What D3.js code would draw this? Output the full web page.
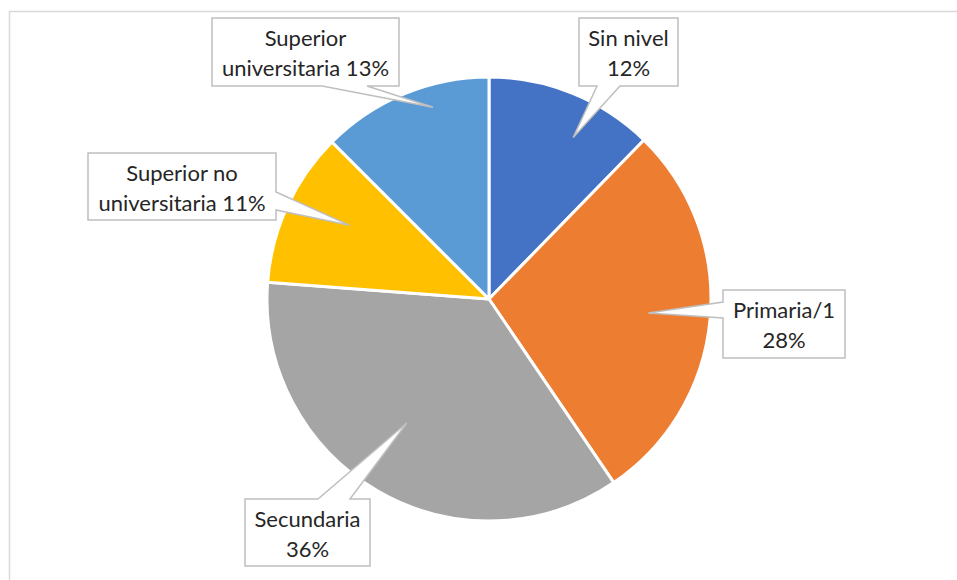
<!DOCTYPE html>
<html><head><meta charset="utf-8">
<script src="https://cdn.jsdelivr.net/npm/d3@7"></script>
<style>html,body{margin:0;padding:0;background:#fff;} svg{display:block;}</style>
</head><body>
<svg id="chart" width="957" height="580"></svg>
<script>
// ---- data ----
const categories = ["Sin nivel", "Primaria/1", "Secundaria", "Superior no universitaria", "Superior universitaria"];
const values = [12.3, 28.2, 35.7, 11.3, 12.5];
const colors = ["#4472C4", "#ED7D31", "#A5A5A5", "#FFC000", "#5B9BD5"];
// label line breaks (text per callout line; percent appended to last line)
const labelLines = [["Sin nivel", ""], ["Primaria/1", ""], ["Secundaria", ""], ["Superior no", "universitaria "], ["Superior", "universitaria "]];

// ---- layout ----
const W = 957, H = 580, cx = 489, cy = 299, R = 222;
// callout boxes: x0,y0,x1,y1, side, base a,b, tip angle offset (deg), tip radius fraction
const callouts = [
  {x0:579, y0:18, x1:678, y1:86, side:"bottom", a:597, b:620, dA:5.4, rF:0.82},
  {x0:723, y0:290, x1:845, y1:358, side:"left", a:302, b:318, dA:0, rF:0.72},
  {x0:245, y0:499, x1:370, y1:566, side:"top", a:318, b:350, dA:3.5, rF:0.67},
  {x0:88, y0:153, x1:276, y1:220, side:"right", a:192, b:210, dA:3.2, rF:0.71},
  {x0:212, y0:18, x1:399, y1:86, side:"bottom", a:322, b:367, dA:6.2, rF:0.9}
];

const svg = d3.select("#chart");
svg.append("rect").attr("x", 9.5).attr("y", 11.5).attr("width", 1200).attr("height", 1200)
  .attr("fill", "none").attr("stroke", "#d9d9d9").attr("stroke-width", 1.5);

const data = categories.map((c, i) => ({cat: c, value: values[i], color: colors[i], i}));
const pie = d3.pie().value(d => d.value).sort(null);
const arcs = pie(data);
const arc = d3.arc().innerRadius(0).outerRadius(R);

const g = svg.append("g").attr("transform", `translate(${cx},${cy})`);
g.selectAll("path.slice").data(arcs).join("path")
  .attr("class", "slice")
  .attr("d", arc)
  .attr("fill", d => d.data.color)
  .attr("stroke", "#fff").attr("stroke-width", 3).attr("stroke-linejoin", "round");

function polar(angDeg, r) {
  const a = angDeg * Math.PI / 180;
  return [cx + r * Math.sin(a), cy - r * Math.cos(a)];
}

const total = d3.sum(values);
arcs.forEach((d, i) => {
  const c = callouts[i];
  const mid = (d.startAngle + d.endAngle) / 2 * 180 / Math.PI;
  const [tx, ty] = polar(mid + c.dA, c.rF * R);
  let p;
  if (c.side === "bottom") {
    p = `M${c.x0},${c.y0}H${c.x1}V${c.y1}H${c.b}L${tx},${ty}L${c.a},${c.y1}H${c.x0}Z`;
  } else if (c.side === "top") {
    p = `M${c.x0},${c.y0}H${c.a}L${tx},${ty}L${c.b},${c.y0}H${c.x1}V${c.y1}H${c.x0}Z`;
  } else if (c.side === "left") {
    p = `M${c.x0},${c.y0}H${c.x1}V${c.y1}H${c.x0}V${c.b}L${tx},${ty}L${c.x0},${c.a}Z`;
  } else {
    p = `M${c.x0},${c.y0}H${c.x1}V${c.a}L${tx},${ty}L${c.x1},${c.b}V${c.y1}H${c.x0}Z`;
  }
  svg.append("path").attr("d", p).attr("fill", "#fff")
    .attr("stroke", "#bfbfbf").attr("stroke-width", 1.5).attr("stroke-linejoin", "miter");
  const pct = Math.round(d.data.value / total * 100) + "%";
  const lines = labelLines[i].slice();
  lines[1] = lines[1] + pct;
  const mx = (c.x0 + c.x1) / 2, my = (c.y0 + c.y1) / 2;
  const t = svg.append("text").attr("text-anchor", "middle")
    .attr("font-family", "Lato, 'Open Sans', sans-serif").attr("font-size", 22)
    .attr("fill", "#262626");
  lines.forEach((ln, k) => {
    t.append("tspan").attr("x", mx).attr("y", my - 6 + (k) * 30).text(ln);
  });
});
</script>
</body></html>
